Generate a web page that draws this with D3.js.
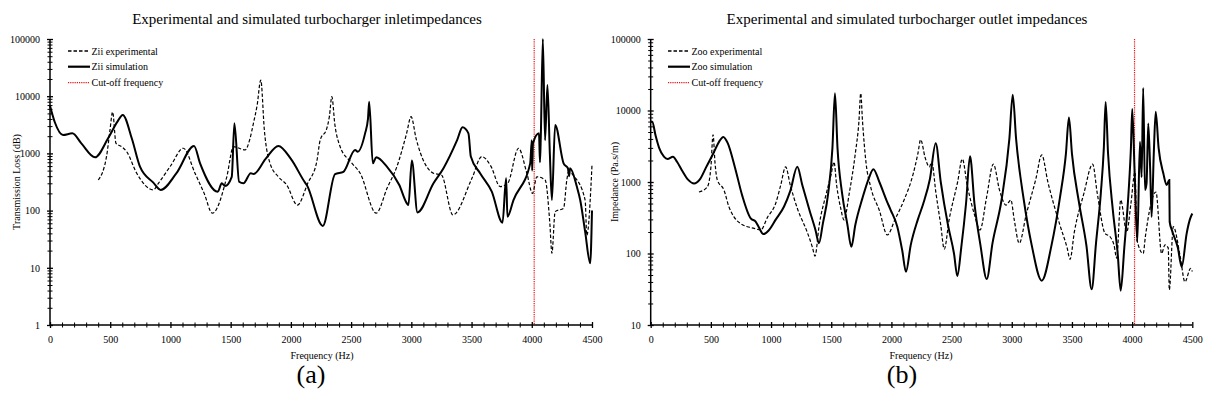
<!DOCTYPE html>
<html><head><meta charset="utf-8">
<script src="https://cdn.jsdelivr.net/npm/d3@7"></script>
<style>
body{margin:0;background:#fff}
svg{display:block}
text{font-family:"Liberation Serif","Times New Roman",serif;fill:#000}
</style>
</head><body>
<svg id="c" width="1208" height="408"></svg>
<script>
// ---------- data ----------
const xMajorTicks = [0,500,1000,1500,2000,2500,3000,3500,4000,4500];
const leftYTicks = [1,10,100,1000,10000,100000];
const rightYTicks = [10,100,1000,10000,100000];
const cutoffFrequency = 4020;

const leftTitle = "Experimental and simulated turbocharger inletimpedances";
const rightTitle = "Experimental and simulated turbocharger outlet impedances";
const leftLegend = ["Zii experimental","Zii simulation","Cut-off frequency"];
const rightLegend = ["Zoo experimental","Zoo simulation","Cut-off frequency"];

const ziiExpFreq = [401,470,498,520,548,595,637,720,858,900,1000,1107,1204,1280,1348,1468,1523,1620,1660,1689,1720,1750,1780,1827,1896,1966,2054,2140,2215,2243,2298,2320,2340,2365,2409,2500,2575,2708,2800,2880,2960,2998,3040,3184,3250,3345,3503,3585,3660,3738,3800,3890,3959,4006,4042,4111,4150,4167,4194,4264,4291,4305,4350,4443,4457,4500];
const ziiExpVal  = [343,900,2560,5300,1500,1310,1070,450,230,300,600,1230,450,200,90,390,1310,1150,1800,3360,7000,19200,2500,670,390,280,125,300,720,1700,2730,4500,9800,3200,1310,700,450,90,250,586,2200,4380,1800,450,420,84,366,880,600,263,300,1230,450,200,390,343,60,18,96,110,343,476,400,153,37,630];

const ziiSimFreq = [0,40,108,185,260,374,480,560,604,680,747,858,919,1050,1196,1246,1393,1426,1453,1509,1531,1570,1606,1667,1690,1790,1896,2000,2118,2132,2265,2367,2436,2533,2555,2616,2640,2650,2680,2708,2797,2900,2963,2976,3004,3051,3184,3267,3380,3425,3474,3494,3571,3668,3757,3787,3798,3848,3987,4000,4003,4010,4060,4068,4075,4092,4110,4130,4150,4167,4194,4264,4300,4310,4318,4374,4402,4443,4485,4500];
const ziiSimVal  = [6800,3500,2100,2240,1500,855,1800,3600,4700,1800,586,308,230,450,1350,670,214,300,270,390,3360,320,300,450,436,800,1350,800,308,280,54,436,476,1150,1070,2240,4000,8000,670,855,586,280,134,125,750,93,300,550,1700,2860,2240,880,450,214,61.5,366,78,153,670,1700,500,1500,2240,700,2000,100000,1700,15700,1000,153,3150,670,550,400,550,263,153,43,12,100];

const zooExpFreq = [401,470,500,518,535,553,609,650,692,750,803,860,914,970,1038,1080,1121,1160,1220,1300,1345,1365,1400,1460,1500,1523,1545,1580,1606,1650,1700,1730,1745,1760,1790,1828,1900,1966,2030,2105,2182,2220,2243,2280,2315,2335,2370,2410,2439,2480,2550,2589,2630,2690,2736,2790,2847,2900,2952,2993,3020,3062,3120,3200,3249,3300,3400,3460,3484,3520,3600,3672,3710,3775,3816,3850,3872,3905,3955,3990,4024,4040,4092,4110,4198,4245,4273,4300,4309,4342,4400,4439,4486,4500];
const zooExpVal  = [725,850,1600,4570,1800,1070,770,450,325,260,237,225,213,320,500,900,1630,900,420,200,120,92,250,700,1300,1900,900,420,295,700,2500,7000,17400,7000,1800,850,400,182,300,560,1320,2500,3900,2200,1630,1900,700,250,115,300,1000,2100,900,350,213,600,1780,750,475,560,300,139,350,1100,2400,1000,250,120,83,200,700,1780,700,191,172,130,86,560,200,500,1380,155,100,172,725,100,132,120,31,237,90,40,62,56];

const zooSimFreq = [0,13,40,70,110,140,185,220,260,310,360,410,460,520,570,603,640,700,760,831,872,900,936,980,1040,1107,1160,1218,1260,1320,1370,1398,1430,1475,1510,1531,1552,1590,1635,1667,1700,1760,1810,1850,1900,1960,1994,2049,2090,2121,2160,2220,2265,2320,2368,2410,2470,2520,2548,2580,2620,2653,2690,2740,2792,2840,2915,2980,3008,3036,3100,3166,3249,3330,3400,3450,3475,3500,3560,3620,3664,3700,3740,3765,3780,3800,3840,3880,3905,3935,3970,3990,4001,4020,4043,4065,4079,4092,4107,4120,4134,4150,4162,4180,4196,4220,4260,4287,4309,4312,4330,4380,4412,4453,4480,4500];
const zooSimVal  = [7000,6970,4500,3000,2260,2100,2260,1900,1450,1080,955,1100,1600,2500,3700,4270,3500,1600,650,310,280,230,187,210,300,450,750,1630,900,400,210,139,260,700,3000,17400,3000,700,250,124,250,600,1100,1510,1000,550,405,237,110,55.6,130,300,500,1100,3470,1000,250,100,48.4,120,500,2290,500,130,44,140,560,4000,16600,4000,560,130,41.7,130,600,2500,7950,2500,500,130,31.5,140,700,3000,13200,2500,400,100,30.2,120,700,3000,10500,1500,146,3650,1170,20600,770,955,6600,1500,325,2500,9600,3000,1300,910,1070,278,213,120,65,190,300,363];

// ---------- drawing ----------
const svg = d3.select("#c");
const TOP = 39, BOTTOM = 325;

function zip(fs, vs){ return fs.map((f,i)=>({f:f, v:vs[i]})); }

function panel(o){
  const g = svg.append("g");
  const x = d3.scaleLinear().domain([0,4500]).range([o.x0,o.x1]);
  const y = d3.scaleLog().domain(o.ydom).range([BOTTOM,TOP]);

  const xMinor = d3.range(0,4501,100).filter(v=>v%500!==0);
  const xa = g.append("g").attr("transform",`translate(0,${BOTTOM})`)
    .call(d3.axisBottom(x).tickValues(xMajorTicks).tickSize(3).tickPadding(8).tickFormat(d3.format("d")));
  xa.selectAll(".tick line").attr("y1",-3).attr("y2",3).attr("stroke-width",1.3);
  xa.select(".domain").attr("stroke-width",1.5).attr("d",`M${o.x0},0H${o.x1}`);
  xa.selectAll(".tick text").attr("font-size",10);
  const xm = g.append("g").attr("transform",`translate(0,${BOTTOM})`)
    .call(d3.axisBottom(x).tickValues(xMinor).tickSize(3).tickFormat(""));
  xm.select(".domain").remove();
  xm.selectAll(".tick line").attr("y1",-2.5).attr("y2",2.5).attr("stroke-width",1);

  const ya = g.append("g").attr("transform",`translate(${o.x0},0)`)
    .call(d3.axisLeft(y).tickValues(o.yticks).tickSize(3).tickPadding(7).tickFormat(d3.format("d")));
  ya.selectAll(".tick line").attr("x1",-3).attr("x2",3).attr("stroke-width",1.3);
  ya.select(".domain").attr("stroke-width",1.5).attr("d",`M0,${TOP}V${BOTTOM}`);
  ya.selectAll(".tick text").attr("font-size",10);
  const yMinor = [];
  for (let d=o.ydom[0]; d<o.ydom[1]; d*=10) for (let k=2;k<10;k++) yMinor.push(d*k);
  const ym = g.append("g").attr("transform",`translate(${o.x0},0)`)
    .call(d3.axisLeft(y).tickValues(yMinor).tickSize(2).tickFormat(""));
  ym.select(".domain").remove();
  ym.selectAll(".tick line").attr("x1",-2.5).attr("x2",2.5).attr("stroke-width",1);

  g.append("line").attr("x1",x(cutoffFrequency)).attr("x2",x(cutoffFrequency))
    .attr("y1",TOP).attr("y2",BOTTOM)
    .attr("stroke","#ee1111").attr("stroke-width",1.2).attr("stroke-dasharray","1.2,1");

  const line = d3.line().x(d=>x(d.f)).y(d=>y(d.v)).curve(d3.curveMonotoneX);
  g.append("path").datum(zip(o.expF,o.expV)).attr("d",line)
    .attr("fill","none").attr("stroke","#000").attr("stroke-width",1.2).attr("stroke-dasharray","3.5,2");
  g.append("path").datum(zip(o.simF,o.simV)).attr("d",line)
    .attr("fill","none").attr("stroke","#000").attr("stroke-width",2);

  const styles = [
    {w:1.4, dash:"3.5,2", c:"#000"},
    {w:2.2, dash:null, c:"#000"},
    {w:1.2, dash:"1.2,1", c:"#ee1111"}
  ];
  const rows=[51,66.7,82.7];
  o.legend.forEach((t,i)=>{
    const l = g.append("line").attr("x1",o.lx).attr("x2",o.lx+22).attr("y1",rows[i]).attr("y2",rows[i])
      .attr("stroke",styles[i].c).attr("stroke-width",styles[i].w);
    if (styles[i].dash) l.attr("stroke-dasharray",styles[i].dash);
    g.append("text").attr("x",o.lx+23.5).attr("y",rows[i]+3.5).attr("font-size",10).text(t);
  });

  g.append("text").attr("x",o.tx).attr("y",24).attr("text-anchor","middle").attr("font-size",15).text(o.title);
  g.append("text").attr("x",o.fx).attr("y",359).attr("text-anchor","middle").attr("font-size",10).text("Frequency (Hz)");
  g.append("text").attr("transform",`translate(${o.ylx},182) rotate(-90)`).attr("text-anchor","middle").attr("font-size",10).text(o.ylabel);
  g.append("text").attr("x",o.px).attr("y",383).attr("text-anchor","middle").attr("font-size",26).text(o.plabel);
}

panel({x0:50,x1:592,ydom:[1,100000],yticks:leftYTicks,expF:ziiExpFreq,expV:ziiExpVal,simF:ziiSimFreq,simV:ziiSimVal,
  legend:leftLegend,lx:68,title:leftTitle,tx:307,fx:322,ylx:19.5,ylabel:"Transmission Loss (dB)",px:311,plabel:"(a)"});
panel({x0:650.7,x1:1192.3,ydom:[10,100000],yticks:rightYTicks,expF:zooExpFreq,expV:zooExpVal,simF:zooSimFreq,simV:zooSimVal,
  legend:rightLegend,lx:668,title:rightTitle,tx:907,fx:921,ylx:618,ylabel:"Impedance (Pa.s/m)",px:902,plabel:"(b)"});
</script>
</body></html>
